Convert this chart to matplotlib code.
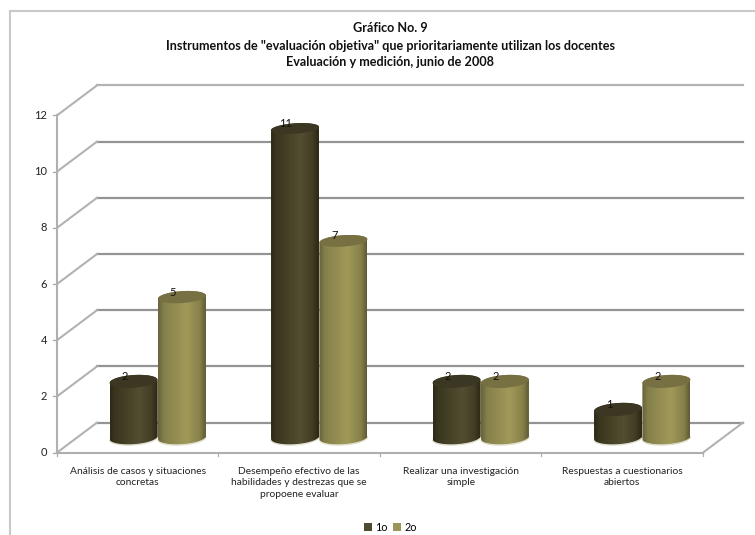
#!/usr/bin/env python3
# -*- coding: utf-8 -*-
import numpy as np
import matplotlib
matplotlib.use('Agg')
import matplotlib.pyplot as plt
from matplotlib.colors import LinearSegmentedColormap
from matplotlib.lines import Line2D
from matplotlib.path import Path
from matplotlib.transforms import Affine2D, IdentityTransform

categories = [
    'Análisis de casos y situaciones\nconcretas',
    'Desempeño efectivo de las\nhabilidades y destrezas que se\npropoene evaluar',
    'Realizar una investigación\nsimple',
    'Respuestas a cuestionarios\nabiertos',
]
series_names = ['1o', '2o']
values_1o = [2, 11, 2, 1]
values_2o = [5, 7, 2, 2]
yticks = [0, 2, 4, 6, 8, 10, 12]
title_lines = [
    'Gráfico No. 9',
    'Instrumentos de "evaluación objetiva" que prioritariamente utilizan los docentes',
    'Evaluación y medición, junio de 2008',
]

W, H = 755, 535
plt.rcParams['font.family'] = ['Lato', 'DejaVu Sans']

# axes cover the plane through the middle of the floor, depth is a pixel shift
X0, X1, Y0, Y1 = 77, 723, 437.6, 100.4
PX_X = (X1 - X0) / 4
PX_Y = (Y0 - Y1) / 12
BAR_W = 0.297

fig = plt.figure(figsize=(W / 100, H / 100), dpi=100)
ax = fig.add_axes([X0 / W, 1 - Y0 / H, (X1 - X0) / W, (Y0 - Y1) / H])
ax.axis('off')
ax.set_xlim(0, 4)
ax.set_ylim(0, 12)

front = ax.transData + Affine2D().translate(-20, -15)
back = ax.transData + Affine2D().translate(20, 15)


def px_line(x0, y0, x1, y1, color='#c9c9c9', lw=1.5):
    # straight line given in picture pixels, for the outer frame
    fig.add_artist(Line2D([x0 / W, x1 / W], [1 - y0 / H, 1 - y1 / H],
                          color=color, lw=lw, transform=fig.transFigure))


def wall_line(x0, y0, t0, x1, y1, t1, color, lw=1.5, zorder=1):
    # line between two points that sit on different depth planes
    p0 = t0.transform((x0, y0))
    p1 = t1.transform((x1, y1))
    ax.add_line(Line2D([p0[0], p1[0]], [p0[1], p1[1]], color=color, lw=lw,
                       transform=IdentityTransform(), zorder=zorder, clip_on=False))


px_line(10, 535, 10, 11)
px_line(10, 11, 755, 11)

# walls and floor
for v in yticks:
    ax.plot([0, 4], [v, v], transform=back, clip_on=False, zorder=1,
            color='#b4b4b4' if v == 12 else '#949494', lw=1.6)
    wall_line(0, v, front, 0, v, back, '#b2b2b2')
    ax.plot([0, -0.025], [v, v], transform=front, clip_on=False, color='#a8a8a8', lw=0.9)
    ax.text(0, v, str(v), transform=front + Affine2D().translate(-10, 0),
            ha='right', va='center', fontsize=8, color='#222222', clip_on=False)

ax.plot([0, 0], [0, 12], transform=front, clip_on=False, color='#b0b0b0', lw=1.5, zorder=2)
ax.plot([0, 4], [0, 0], transform=front, clip_on=False, color='#aeaeae', lw=1.5, zorder=2)
wall_line(4, 0, front, 4, 0, back, '#b2b2b2')
for i in range(5):
    ax.plot([i, i], [0, -0.11], transform=front, clip_on=False, color='#aeaeae', lw=0.9)

# category labels under the front edge of the floor
for i, cat in enumerate(categories):
    ax.text(i + 0.5, 0, cat, transform=front + Affine2D().translate(0, -14),
            ha='center', va='top', fontsize=7.4, color='#222222',
            linespacing=1.4, clip_on=False)

dark_cmap = LinearSegmentedColormap.from_list('dark', [
    (0, '#2e2a17'), (0.1, '#3a361f'), (0.62, '#534e31'), (0.86, '#433e25'), (1, '#2c2815')])
light_cmap = LinearSegmentedColormap.from_list('light', [
    (0, '#68633a'), (0.12, '#85804b'), (0.6, '#a19959'), (0.88, '#878149'), (1, '#5f5c36')])


def ellipse_pts(cx, v, t):
    # tilted ellipse round a bar end, flatter the higher the bar gets
    a = BAR_W * PX_X / 2
    b = 6.6 - 0.13 * v
    tilt = np.radians(4)
    px = a * np.cos(t) * np.cos(tilt) - b * np.sin(t) * np.sin(tilt)
    py = a * np.cos(t) * np.sin(tilt) + b * np.sin(t) * np.cos(tilt)
    return cx + px / PX_X, v + py / PX_Y


def draw_series(xs, values, name, cmap, base, top, z):
    bars = ax.bar(xs, values, BAR_W, color=base, label=name, zorder=z)
    grad = np.linspace(0, 1, 64).reshape(1, -1)
    for bar, cx, v in zip(bars, xs, values):
        xb, yb = ellipse_pts(cx, 0, np.linspace(np.pi, 2 * np.pi, 40))
        xt, yt = ellipse_pts(cx, v, np.linspace(0, np.pi, 40))
        verts = np.column_stack([np.r_[xb, xt], np.r_[yb, yt]])
        clip = Path(np.vstack([verts, verts[0]]), closed=True)
        bar.set_clip_path(clip, transform=ax.transData)
        bar.set_clip_box(fig.bbox)
        ax.plot(xb, yb - 0.8 / PX_Y, color='#dedcc8', lw=0.8, zorder=z - 0.1, clip_on=False)
        im = ax.imshow(grad, cmap=cmap, aspect='auto', zorder=z + 0.1, interpolation='bilinear',
                       extent=(cx - BAR_W / 2, cx + BAR_W / 2, -0.4, v + 0.4))
        # images stay inside the axes box unless given a wider clip box
        im.set_clip_path(clip, transform=ax.transData)
        im.set_clip_box(fig.bbox)
        xe, ye = ellipse_pts(cx, v, np.linspace(0, 2 * np.pi, 80))
        ax.fill(xe, ye, color=top, lw=0, zorder=z + 0.2, clip_on=False)
        ax.text(cx, v, str(v), transform=ax.transData + Affine2D().translate(-9, 5),
                ha='center', va='center', fontsize=8, color='#111111', zorder=10, clip_on=False)
    return bars


xs = np.arange(4) + 0.5
draw_series(xs - 0.15, values_1o, series_names[0], dark_cmap, '#4f4a2e', '#3b3722', 4)
draw_series(xs + 0.15, values_2o, series_names[1], light_cmap, '#9c9459', '#767043', 5)

# imshow resets the view, the depth shifts rely on these limits
ax.set_xlim(0, 4)
ax.set_ylim(0, 12)

# three title lines placed one by one
for y_px, line in zip([28.5, 45.5, 62], title_lines):
    fig.text(390.5 / W, 1 - y_px / H, line, ha='center', va='center',
             fontsize=9.1, fontweight='bold', color='#111111')

fig.legend(loc='center', bbox_to_anchor=(390.5 / W, 1 - 527.5 / H), ncol=2, frameon=False,
           fontsize=7.8, handlelength=0.7, handleheight=0.7, handletextpad=0.35,
           columnspacing=0.45, borderpad=0)

fig.savefig('out.png', dpi=100)
